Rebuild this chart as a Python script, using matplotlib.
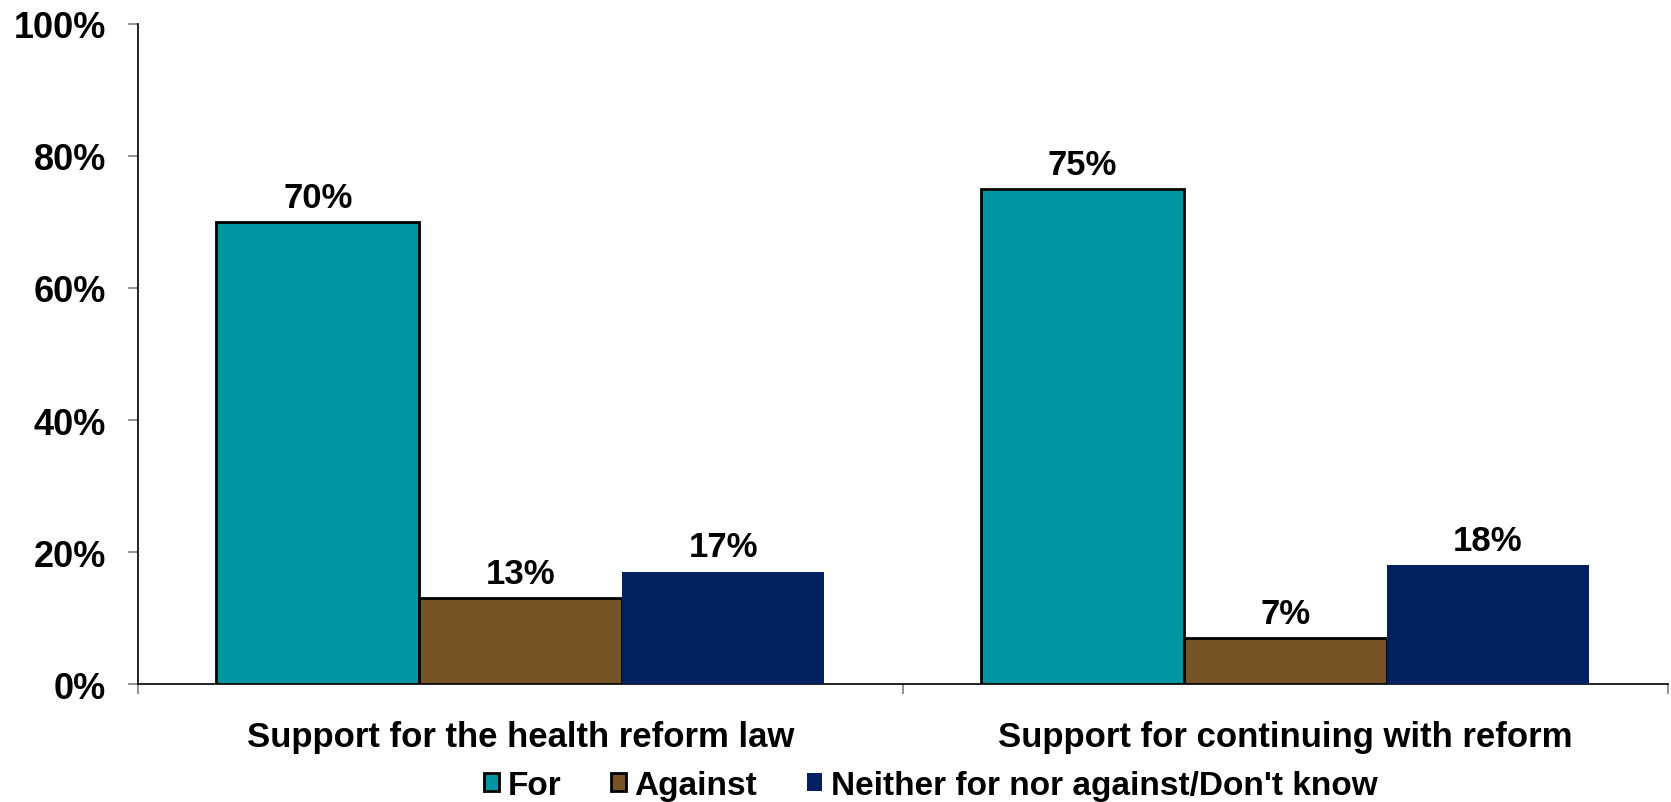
import matplotlib
matplotlib.use("Agg")
import matplotlib.pyplot as plt
import numpy as np

categories = ["Support for the health reform law", "Support for continuing with reform"]
series_names = ["For", "Against", "Neither for nor against/Don't know"]
values_for = [70, 75]
values_against = [13, 7]
values_neither = [17, 18]
y_ticks = [0, 20, 40, 60, 80, 100]
y_tick_labels = ["0%", "20%", "40%", "60%", "80%", "100%"]

colors = ["#0095A3", "#765425", "#002060"]
edges = ["black", "black", "none"]

plt.rcParams["font.family"] = ["Liberation Sans", "DejaVu Sans"]
plt.rcParams["font.weight"] = "bold"

fig = plt.figure(figsize=(16.71, 8.03), dpi=100)
ax = fig.add_axes([0.0826, 0.1469, 0.9154, 0.8220])

x = np.arange(len(categories))
width = 0.265
all_series = [values_for, values_against, values_neither]
handles = []
for i, (vals, name) in enumerate(zip(all_series, series_names)):
    pos = x + (i - 1) * width
    bars = ax.bar(pos, vals, width, color=colors[i], edgecolor=edges[i],
                  linewidth=2 if edges[i] != "none" else 0, label=name, zorder=3)
    handles.append(bars)
    for px, v in zip(pos, vals):
        ax.annotate(f"{v}%", (px, v), xytext=(0, 6), textcoords="offset points",
                    ha="center", va="bottom", fontsize=25, fontweight="bold")

ax.set_xlim(-0.5, 1.5)
ax.set_ylim(0, 100)

ax.set_yticks(y_ticks)
ax.set_yticklabels(y_tick_labels)
ax.tick_params(axis="y", direction="out", length=7.2, width=1.2, color="#808080",
               pad=16, labelsize=26)

ax.set_xticks([-0.5, 0.5, 1.5])
ax.set_xticklabels(["", "", ""])
ax.tick_params(axis="x", which="major", direction="out", length=7.2, width=1.2,
               color="#808080")
ax.set_xticks(x, minor=True)
ax.set_xticklabels(categories, minor=True)
ax.tick_params(axis="x", which="minor", length=0, pad=26, labelsize=25)

for side in ["top", "right"]:
    ax.spines[side].set_visible(False)
ax.spines["left"].set_linewidth(1.2)
ax.spines["bottom"].set_linewidth(1.2)

fig.legend(handles=handles, labels=series_names, loc="center",
           bbox_to_anchor=(0.557, 0.021), ncol=3, frameon=False, fontsize=24,
           handlelength=0.45, handleheight=0.45, handletextpad=0.25,
           columnspacing=1.5, borderaxespad=0, borderpad=0)

fig.savefig("out.png", dpi=100)
